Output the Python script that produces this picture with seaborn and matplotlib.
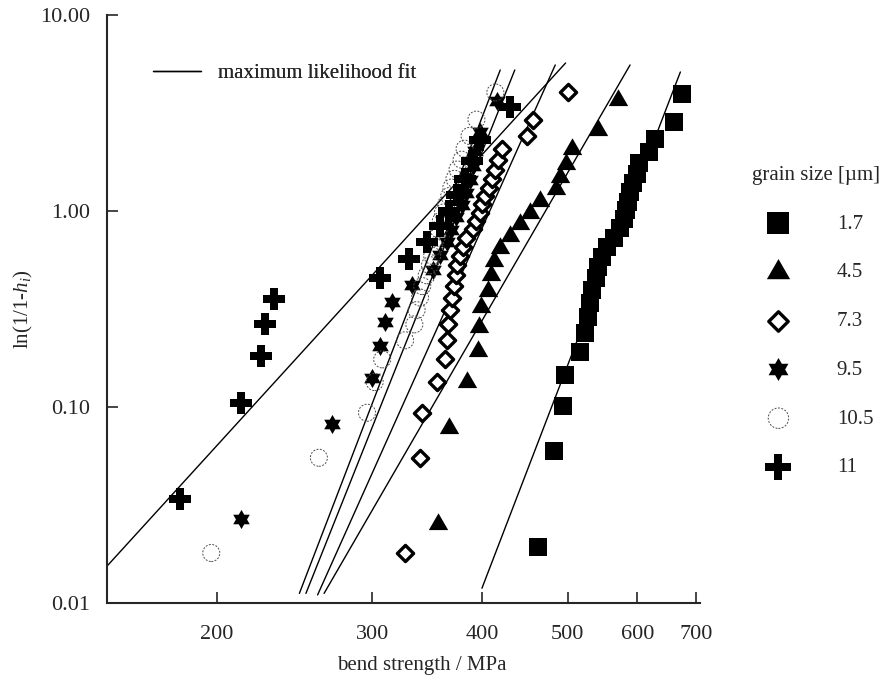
import numpy as np
import matplotlib
matplotlib.use("Agg")
import matplotlib.pyplot as plt
from matplotlib.path import Path
from matplotlib.lines import Line2D
from matplotlib.ticker import NullLocator
import seaborn as sns

# grain sizes [um] as shown in the legend
grain_sizes = ["1.7", "4.5", "7.3", "9.5", "10.5", "11"]

# bend strength [MPa] and ln(1/(1-h_i))
s_17 = [463, 483, 494, 497, 517, 524, 528, 530, 533, 538, 542, 547, 555,
        565, 574, 580, 583, 586, 589, 594, 600, 602, 619, 629, 660, 675]
f_17 = [0.0194, 0.0594, 0.101, 0.145, 0.190, 0.238, 0.288, 0.340, 0.396,
        0.455, 0.517, 0.584, 0.655, 0.732, 0.816, 0.907, 1.007, 1.118,
        1.243, 1.386, 1.553, 1.754, 2.005, 2.342, 2.853, 3.951]

s_45 = [356, 367, 384, 396, 397, 399, 406, 409, 413, 419, 430, 442, 453,
        465, 485, 490, 498, 506, 542, 571]
f_45 = [0.0253, 0.0780, 0.134, 0.192, 0.255, 0.322, 0.393, 0.470, 0.553,
        0.644, 0.744, 0.856, 0.981, 1.124, 1.291, 1.492, 1.743, 2.079,
        2.590, 3.689]

s_73 = [327, 340, 342, 355, 363, 365, 366, 368, 370, 372, 374, 375, 377,
        380, 383, 390, 394, 398, 400, 403, 407, 410, 414, 417, 421, 450,
        457, 500]
f_73 = [0.0180, 0.0551, 0.0935, 0.134, 0.175, 0.219, 0.264, 0.312, 0.362,
        0.414, 0.470, 0.529, 0.591, 0.658, 0.730, 0.806, 0.890, 0.981,
        1.081, 1.192, 1.317, 1.460, 1.628, 1.828, 2.079, 2.416, 2.927, 4.025]

s_95 = [213, 270, 300, 306, 310, 316, 333, 352, 358, 365, 369, 374, 379,
        383, 387, 390, 393, 398, 416]
f_95 = [0.0267, 0.0822, 0.141, 0.204, 0.270, 0.342, 0.419, 0.502, 0.593,
        0.693, 0.804, 0.930, 1.073, 1.240, 1.440, 1.692, 2.028, 2.539, 3.638]

s_105 = [197, 261, 296, 302, 308, 327, 335, 337, 340, 342, 346, 349, 351,
         353, 355, 357, 359, 361, 364, 367, 369, 372, 375, 379, 382, 387,
         394, 414]
f_105 = [0.0180, 0.0551, 0.0935, 0.134, 0.175, 0.219, 0.264, 0.312, 0.362,
         0.414, 0.470, 0.529, 0.591, 0.658, 0.730, 0.806, 0.890, 0.981,
         1.081, 1.192, 1.317, 1.460, 1.628, 1.828, 2.079, 2.416, 2.927, 4.025]

s_11 = [181.5, 213, 224.5, 227, 232, 306, 330, 346, 358, 367, 375, 382,
        389, 398, 430]
f_11 = [0.0339, 0.105, 0.182, 0.266, 0.357, 0.457, 0.568, 0.693, 0.836,
        1.003, 1.204, 1.455, 1.792, 2.303, 3.401]

# maximum likelihood fits: Weibull modulus, characteristic strength [MPa],
# and the range of ln(1/(1-h)) over which each line is drawn
weibull_m = [11.69, 7.76, 10.02, 11.26, 11.71, 4.93]
sigma_0 = [584, 472, 408, 376, 364, 349.6]
fit_f_lo = [0.0119, 0.0112, 0.0110, 0.0112, 0.0112, 0.0154]
fit_f_hi = [5.12, 5.56, 5.56, 5.24, 5.24, 5.69]

x_ticks = [200, 300, 400, 500, 600, 700]
y_ticks = [0.01, 0.1, 1, 10]
y_tick_labels = ["0.01", "0.10", "1.00", "10.00"]

sns.set_theme(style="ticks")
plt.rcParams["font.family"] = ["Liberation Serif", "DejaVu Serif"]
plt.rcParams["mathtext.fontset"] = "custom"
plt.rcParams["mathtext.rm"] = "Liberation Serif"
plt.rcParams["mathtext.it"] = "Liberation Serif:italic"

# six pointed star and equilateral triangle markers
star_v = []
for k in range(6):
    a = np.deg2rad(90 + 60 * k)
    b = a + np.deg2rad(30)
    star_v.append((np.cos(a), np.sin(a)))
    star_v.append((np.cos(b) / np.sqrt(3), np.sin(b) / np.sqrt(3)))
star_v.append(star_v[0])
hexagram = Path(star_v, closed=True)
tri_v = [(0, 1), (-0.866, -0.5), (0.866, -0.5), (0, 1)]
triangle = Path(tri_v, closed=True)

styles = [
    dict(marker="s", s=175, color="black", edgecolor="black", linewidth=0),
    dict(marker=triangle, s=260, color="black", edgecolor="black", linewidth=0),
    dict(marker="D", s=68, color="white", edgecolor="black", linewidth=2.4),
    dict(marker=hexagram, s=190, color="black", edgecolor="black", linewidth=0),
    dict(marker="o", s=150, color=(1, 1, 1, 0), edgecolor="0.3", linewidth=0.7,
         linestyle=(0, (2, 1.5))),
    dict(marker="P", s=230, color="black", edgecolor="black", linewidth=0),
]

strengths = [s_17, s_45, s_73, s_95, s_105, s_11]
probs = [f_17, f_45, f_73, f_95, f_105, f_11]

fig, ax = plt.subplots(figsize=(8.83, 6.82), dpi=100)
fig.subplots_adjust(left=0.1212, right=0.7928, bottom=0.1158, top=0.978)

handles = []
for s, f, st in zip(strengths, probs, styles):
    sns.scatterplot(x=s, y=f, ax=ax, legend=False, zorder=3, **st)
    handles.append(ax.collections[-1])

for m, s0, lo, hi in zip(weibull_m, sigma_0, fit_f_lo, fit_f_hi):
    xs = [s0 * lo ** (1 / m), s0 * hi ** (1 / m)]
    sns.lineplot(x=xs, y=[lo, hi], ax=ax, color="black", linewidth=1.0, zorder=2)

ax.set_xscale("log")
ax.set_yscale("log")
ax.set_xlim(150, 707)
ax.set_ylim(0.01, 10)
ax.set_xticks(x_ticks)
ax.set_xticklabels([str(t) for t in x_ticks])
ax.set_yticks(y_ticks)
ax.set_yticklabels(y_tick_labels)
ax.xaxis.set_minor_locator(NullLocator())
ax.yaxis.set_minor_locator(NullLocator())
ax.tick_params(direction="in", length=8, width=1.2, labelsize=16)
ax.tick_params(axis="x", pad=16)
ax.tick_params(axis="y", pad=12)
for side in ["left", "bottom"]:
    ax.spines[side].set_linewidth(1.5)
sns.despine(ax=ax)

ax.set_xlabel("bend strength / MPa", fontsize=15)
ax.set_ylabel(r"ln(1/1-$h_i$)", fontsize=15)
ax.xaxis.set_label_coords(0.531, -0.09)

fit_leg = ax.legend(handles=[Line2D([], [], color="black", linewidth=1.0)],
                    labels=["maximum likelihood fit"], loc="upper left",
                    bbox_to_anchor=(0.06, 0.935), frameon=False, fontsize=15,
                    handlelength=2.3, borderpad=0)
ax.add_artist(fit_leg)

fig.legend(handles=handles, labels=grain_sizes, title="grain size [µm]",
           loc="upper left", bbox_to_anchor=(0.8403, 0.772), frameon=False,
           fontsize=15, title_fontsize=15, labelspacing=1.4, markerscale=1.2,
           handlelength=2.5, handletextpad=1.55, borderpad=0, scatterpoints=1,
           alignment="left")

fig.savefig("out.png", dpi=100)
